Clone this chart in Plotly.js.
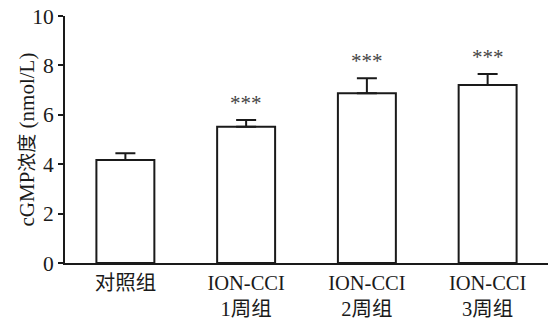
<!DOCTYPE html>
<html><head><meta charset="utf-8">
<script src="https://cdn.plot.ly/plotly-3.0.1.min.js"></script>
<style>html,body{margin:0;padding:0;background:#fff}#c{width:548px;height:323px}</style>
</head><body><div id="c"></div>
<script>
var categories = ["对照组", "ION-CCI<br>1周组", "ION-CCI<br>2周组", "ION-CCI<br>3周组"];
var means = [4.17, 5.52, 6.87, 7.21];
var errors = [0.27, 0.27, 0.61, 0.44];
var sigLabels = ["", "***", "***", "***"];
var yTicks = [0, 2, 4, 6, 8, 10];
var yTitle = "cGMP<span style='font-size:19px'>浓度</span> (nmol/L)";

var fontFam = "'Liberation Serif', 'Times New Roman', 'Noto Sans CJK SC', serif";
var trace = {
  type: "bar", x: categories, y: means,
  marker: {color: "#ffffff", line: {color: "#1a1a1a", width: 2}},
  error_y: {type: "data", symmetric: false, array: errors, arrayminus: errors.map(function(){return 0;}),
            color: "#1a1a1a", thickness: 2, width: 10},
  hoverinfo: "none"
};
var annotations = [];
for (var i = 0; i < categories.length; i++) {
  if (sigLabels[i]) annotations.push({
    x: categories[i], y: means[i] + errors[i], text: sigLabels[i], showarrow: false,
    yanchor: "bottom", yshift: 3, font: {family: fontFam, size: 21, color: "#444"}
  });
}
annotations.push({
  xref: "paper", yref: "paper", x: (26 - 65) / 483, y: 0.5, xanchor: "center", yanchor: "middle",
  textangle: -90, showarrow: false, text: yTitle,
  font: {family: fontFam, size: 21, color: "#1a1a1a"}
});
var layout = {
  width: 548, height: 323,
  margin: {l: 65, r: 0, t: 16, b: 60},
  paper_bgcolor: "#fff", plot_bgcolor: "#fff",
  showlegend: false, bargap: 0.52,
  font: {family: fontFam, color: "#1a1a1a", size: 20},
  xaxis: {range: [-0.5, 3.5], showline: true, linecolor: "#1a1a1a", linewidth: 2, ticks: "",
          tickfont: {size: 20.5, family: fontFam, color: "#1a1a1a"}, showgrid: false, zeroline: false, fixedrange: true},
  yaxis: {range: [0, 10], tickvals: yTicks, showline: true, linecolor: "#1a1a1a", linewidth: 2,
          ticks: "outside", ticklen: 5, tickwidth: 2, tickcolor: "#1a1a1a",
          tickfont: {size: 21.5, family: fontFam, color: "#1a1a1a"}, showgrid: false, zeroline: false},
  annotations: annotations
};
Plotly.newPlot("c", [trace], layout, {displayModeBar: false, staticPlot: true});
</script></body></html>
